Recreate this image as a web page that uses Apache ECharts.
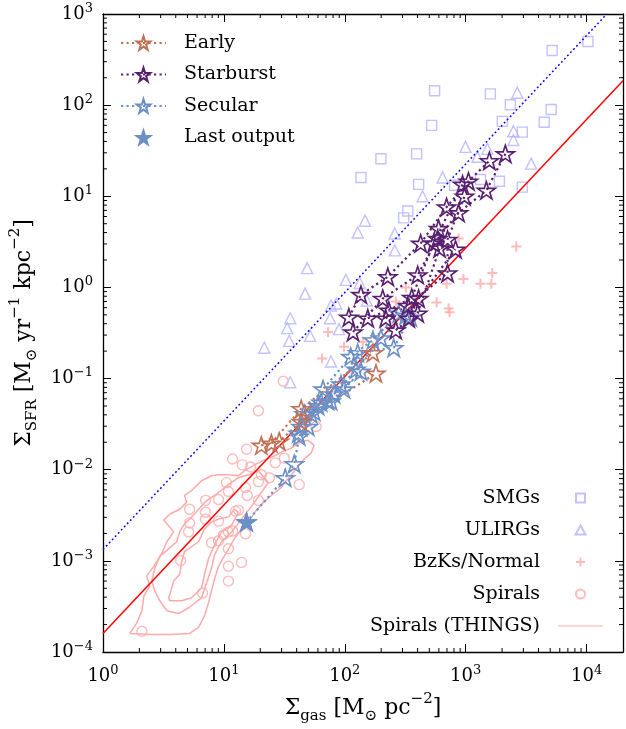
<!DOCTYPE html>
<html>
<head>
<meta charset="utf-8">
<script src="https://cdn.jsdelivr.net/npm/echarts@6.0.0/dist/echarts.min.js"></script>
<style>
  html, body { margin: 0; padding: 0; background: #fff; }
  #main { width: 626px; height: 729px; }
</style>
</head>
<body>
<div id="main"></div>
<script>
var smgX = [10260, 5190, 553, 1600, 2340, 5090, 2010, 523, 4460, 2940, 393, 199, 136, 408, 809, 1325, 1900, 2940, 332, 307];
var smgY = [499, 398, 144, 133, 101, 89.5, 66.4, 60, 64.9, 50.6, 29.2, 25.8, 16.1, 13.5, 13.2, 15.3, 14.6, 12.6, 6.9, 5.8];

var ulirgX = [2670, 2480, 2480, 996, 1510, 1250, 3480, 644, 440, 147, 128, 259, 259, 48.8, 102, 133, 47, 77, 85, 152, 35.4, 75.5, 33.4, 89.6, 34.7, 51.7, 21.6, 77, 35.4];
var ulirgY = [137, 51.8, 41.4, 34.8, 33.1, 27.1, 22.8, 16.1, 10.0, 5.4, 4.0, 3.9, 2.55, 1.63, 1.21, 1.12, 0.855, 0.634, 0.667, 0.718, 0.459, 0.459, 0.358, 0.349, 0.259, 0.294, 0.218, 0.154, 0.0912];

var bzkX = [2620, 1660, 959, 1324, 1630, 695, 575, 722, 736, 319, 873, 72.7, 98.5, 64.9, 141, 264];
var bzkY = [2.82, 1.44, 1.24, 1.10, 1.10, 1.10, 0.684, 0.589, 0.533, 1.0, 3.44, 0.324, 0.223, 0.166, 0.253, 0.701];

var spiralX = [31.0, 19.3, 57.9, 15.4, 11.8, 14.2, 16.6, 26.6, 31.6, 10.5, 20.4, 23.8, 42.0, 19.3, 15.1, 15.6, 19.3, 10.9, 7.05, 9.03, 5.21, 7.05, 9.03, 12.5, 13.2, 5.21, 5.11, 7.05, 7.9, 9.03, 9.93, 10.9, 11.8, 10.9, 14.0, 10.9, 10.9, 4.39, 6.67, 2.10, 15.1];
var spiralY = [0.0935, 0.0444, 0.0298, 0.0168, 0.0131, 0.0113, 0.0107, 0.0119, 0.0134, 0.00721, 0.0088, 0.00816, 0.00686, 0.0074, 0.00637, 0.00522, 0.00461, 0.00577, 0.00461, 0.00472, 0.00368, 0.00342, 0.00273, 0.00351, 0.0036, 0.0026, 0.00208, 0.00287, 0.00158, 0.00166, 0.00193, 0.00208, 0.00213, 0.00136, 0.000962, 0.000871, 0.0006, 0.00101, 0.000445, 0.000169, 0.00198];

// THINGS contours (outer, middle, inner)
var thingsX = [
  [1.67, 1.91, 2.10, 2.18, 2.44, 2.30, 2.63, 3.06, 3.37, 3.85, 3.18, 3.56, 4.31, 4.92, 4.73, 5.41, 6.54, 7.9, 9.03, 10.9, 13.2, 14.8, 17.9, 21.6, 26.1, 31.0, 36.0, 43.6, 49.8, 55.8, 52.7, 45.3, 41.2, 37.4, 32.8, 29.8, 24.7, 21.2, 18.6, 16.3, 14.0, 12.2, 11.1, 9.93, 9.03, 8.37, 7.9, 7.47, 6.92, 6.18, 5.21, 3.56, 2.53, 1.67],
  [2.53, 2.68, 2.95, 3.50, 4.07, 4.31, 4.65, 5.41, 6.18, 6.92, 7.9, 9.03, 10.9, 13.2, 16.0, 19.3, 23.3, 20.4, 17.9, 16.0, 14.0, 11.6, 9.55, 8.37, 7.9, 6.54, 5.11, 4.23, 3.37, 2.95, 2.68, 2.53],
  [3.56, 3.50, 3.85, 4.31, 4.48, 4.73, 6.18, 6.92, 7.9, 9.03, 10.9, 12.2, 13.2, 11.6, 9.55, 8.37, 7.47, 6.92, 6.54, 5.41, 4.48, 3.56]
];
var thingsY = [
  [1.6e-4, 2.1e-4, 2.84e-4, 4.13e-4, 5.3e-4, 6.8e-4, 8.7e-4, 1.2e-3, 1.62e-3, 2.08e-3, 2.8e-3, 3.25e-3, 3.68e-3, 4.38e-3, 5.22e-3, 5.91e-3, 7.57e-3, 8.59e-3, 8.8e-3, 8.8e-3, 8.59e-3, 9.72e-3, 1.13e-2, 1.28e-2, 1.41e-2, 1.6e-2, 1.72e-2, 2.05e-2, 2.1e-2, 1.85e-2, 1.52e-2, 1.28e-2, 1.10e-2, 9.25e-3, 7.57e-3, 6.37e-3, 5.22e-3, 4.38e-3, 3.6e-3, 2.8e-3, 2.24e-3, 1.75e-3, 1.4e-3, 1.09e-3, 8.71e-4, 6.3e-4, 4.68e-4, 3.47e-4, 2.51e-4, 1.86e-4, 1.6e-4, 1.56e-4, 1.56e-4, 1.6e-4],
  [6.0e-4, 8.3e-4, 1.12e-3, 1.36e-3, 1.62e-3, 2.08e-3, 2.47e-3, 3.02e-3, 3.68e-3, 4.38e-3, 4.97e-3, 5.62e-3, 6.86e-3, 8.17e-3, 8.8e-3, 9.72e-3, 7.21e-3, 5.62e-3, 4.38e-3, 3.6e-3, 2.87e-3, 2.08e-3, 1.62e-3, 1.17e-3, 8.28e-4, 3.93e-4, 3.06e-4, 2.64e-4, 2.84e-4, 3.65e-4, 4.68e-4, 6.0e-4],
  [3.65e-4, 3.93e-4, 6.0e-4, 7.13e-4, 9.86e-4, 1.26e-3, 1.62e-3, 2.24e-3, 2.67e-3, 2.87e-3, 3.02e-3, 3.68e-3, 3.42e-3, 2.47e-3, 2.08e-3, 1.5e-3, 1.06e-3, 7.13e-4, 5.04e-4, 3.93e-4, 3.65e-4, 3.65e-4]
];

// reference relations
var ksX = [1, 20000];
var ksY = [1.6e-4, 185];
var sbSeqX = [1, 14700];
var sbSeqY = [1.33e-3, 1000];

// simulation tracks
var earlyX = [[20.4, 28.7, 43.6, 181], [24.7, 43.6, 171]];
var earlyY = [[0.0185, 0.0205, 0.0337, 0.114], [0.0195, 0.0466, 0.192]];

var burstX = [
  [108, 136, 227, 424, 695, 1054, 1570],
  [117, 206, 401, 586, 873, 1483, 2128],
  [155, 231, 358, 543, 942],
  [218, 332, 708, 708, 977],
  [264, 401, 608, 597],
  [338, 408, 824]
];
var burstY = [
  [0.471, 0.834, 1.31, 3.04, 7.63, 14.6, 24.5],
  [0.324, 0.755, 1.37, 3.44, 6.58, 11.6, 29.2],
  [0.459, 0.560, 0.774, 3.04, 13.5],
  [0.459, 0.634, 1.44, 3.36, 10.0],
  [0.340, 0.520, 2.69, 4.42],
  [0.459, 0.755, 2.62]
];

var secularX = [
  [319, 199, 124, 81.5, 55.8, 42.0, 38.2, 32.2, 15.4],
  [351, 254, 128, 93.0, 72.7, 60.1, 49.8, 41.2],
  [136, 98.5, 77, 63.7, 52.7, 43.6],
  [279, 171, 112, 66.1, 46.1]
];
var secularY = [
  [0.494, 0.279, 0.126, 0.0676, 0.0433, 0.0232, 0.0116, 0.00817, 0.00267],
  [0.471, 0.218, 0.192, 0.0868, 0.0568, 0.0502, 0.0298, 0.0250],
  [0.120, 0.0766, 0.0568, 0.055, 0.0411, 0.0298],
  [0.520, 0.265, 0.174, 0.0766, 0.0411]
];

var lastX = [15.4];
var lastY = [0.00267];

// axis ticks
var xDecades = [1, 10, 100, 1000];
var yDecades = [1e-4, 1e-3, 1e-2, 1e-1, 1, 10, 100];
var minorSteps = [2, 3, 4, 5, 6, 7, 8, 9];

var FONT = '"DejaVu Serif", serif';
var STAR = 'path://M50,0L61.23,34.55L97.55,34.55L68.17,55.9L79.39,90.45L50,69.1L20.61,90.45L31.83,55.9L2.45,34.55L38.77,34.55Z';
var PLUS = 'path://M4,0H6V10H4ZM0,4H10V6H0Z';
var SQUARE = 'path://M0,0H10V10H0Z';
var TRI = 'path://M5,0L10,9L0,9Z';
var EARLY = '#c17256', BURST = '#581e70', SECULAR = '#6b8fc6';
var BLUEOBS = '#b3b3ff', PINK = '#ffaaaa';

function pts(xs, ys) {
  return xs.map(function (x, i) { return [x, ys[i]]; });
}

function track(name, color, xs, ys) {
  return {
    name: name, type: 'line', data: pts(xs, ys),
    symbol: STAR, symbolSize: 18, symbolKeepAspect: true,
    lineStyle: { color: color, width: 2.2, type: [2.2, 3.3] },
    itemStyle: { color: 'rgba(255,255,255,0)', borderColor: color, borderWidth: 1.6 },
    z: 5
  };
}

var xMinor = [], yMinor = [];
xDecades.forEach(function (d) { minorSteps.forEach(function (m) { xMinor.push([m * d, 1]); }); });
yDecades.forEach(function (d) { minorSteps.forEach(function (m) { yMinor.push([1, m * d]); }); });

function powLabel(v) {
  var e = Math.round(Math.log10(v));
  if (Math.abs(Math.pow(10, e) - v) / v > 1e-6) return '';
  return '{b|10}{s|' + (e < 0 ? '\u2212' + (-e) : e) + '}';
}
var labelRich = {
  b: { fontFamily: FONT, fontSize: 18, color: '#000', lineHeight: 24 },
  s: { fontFamily: FONT, fontSize: 13, color: '#000', verticalAlign: 'top' }
};
var nameRich = {
  t: { fontFamily: FONT, fontSize: 22, color: '#000', lineHeight: 32 },
  sub: { fontFamily: FONT, fontSize: 15, color: '#000', verticalAlign: 'bottom' },
  sup: { fontFamily: FONT, fontSize: 15, color: '#000', verticalAlign: 'top' }
};

function baseAxis(extra) {
  var a = {
    type: 'log', logBase: 10,
    axisLine: { show: true, lineStyle: { color: '#000', width: 1.3 } },
    axisTick: { show: true, inside: true, length: 8, lineStyle: { color: '#000', width: 1 } },
    splitLine: { show: false },
    axisLabel: { show: false }
  };
  for (var k in extra) a[k] = extra[k];
  return a;
}

function minorTicks(isX) {
  return function (params, api) {
    var cs = params.coordSys;
    var p = api.coord([api.value(0), api.value(1)]);
    var st = { stroke: '#000', lineWidth: 1 };
    if (isX) {
      var yb = cs.y + cs.height, yt = cs.y;
      return { type: 'group', children: [
        { type: 'line', shape: { x1: p[0], y1: yb, x2: p[0], y2: yb - 4 }, style: st },
        { type: 'line', shape: { x1: p[0], y1: yt, x2: p[0], y2: yt + 4 }, style: st }
      ] };
    }
    var xl = cs.x, xr = cs.x + cs.width;
    return { type: 'group', children: [
      { type: 'line', shape: { x1: xl, y1: p[1], x2: xl + 4, y2: p[1] }, style: st },
      { type: 'line', shape: { x1: xr, y1: p[1], x2: xr - 4, y2: p[1] }, style: st }
    ] };
  };
}

var series = [];
thingsX.forEach(function (xs, i) {
  series.push({
    name: 'Spirals (THINGS)', type: 'line', data: pts(xs, thingsY[i]),
    symbol: 'none', lineStyle: { color: PINK, width: 1.5 }, itemStyle: { color: PINK }, z: 1
  });
});
series.push({
  name: 'SMGs', type: 'scatter', data: pts(smgX, smgY), symbol: 'rect', symbolSize: 10,
  itemStyle: { color: 'rgba(255,255,255,0)', borderColor: BLUEOBS, borderWidth: 1.4 }, z: 2
});
series.push({
  name: 'ULIRGs', type: 'scatter', data: pts(ulirgX, ulirgY), symbol: 'triangle', symbolSize: 11,
  itemStyle: { color: 'rgba(255,255,255,0)', borderColor: BLUEOBS, borderWidth: 1.4 }, z: 2
});
series.push({
  name: 'BzKs/Normal', type: 'scatter', data: pts(bzkX, bzkY), symbol: PLUS, symbolSize: 10,
  itemStyle: { color: PINK }, z: 2
});
series.push({
  name: 'Spirals', type: 'scatter', data: pts(spiralX, spiralY), symbol: 'circle', symbolSize: 10,
  itemStyle: { color: 'rgba(255,255,255,0)', borderColor: PINK, borderWidth: 1.4 }, z: 2
});
series.push({
  name: 'KS', type: 'line', data: pts(ksX, ksY), symbol: 'none',
  lineStyle: { color: '#ff0000', width: 1.5 }, z: 3
});
series.push({
  name: 'SBseq', type: 'line', data: pts(sbSeqX, sbSeqY), symbol: 'none',
  lineStyle: { color: '#0000ff', width: 1.5, type: [1.8, 2.6] }, z: 3
});
secularX.forEach(function (xs, i) { series.push(track('Secular', SECULAR, xs, secularY[i])); });
earlyX.forEach(function (xs, i) { series.push(track('Early', EARLY, xs, earlyY[i])); });
burstX.forEach(function (xs, i) { series.push(track('Starburst', BURST, xs, burstY[i])); });
series.push({
  name: 'Last output', type: 'line', data: pts(lastX, lastY),
  symbol: STAR, symbolSize: 20, symbolKeepAspect: true,
  lineStyle: { width: 0, color: SECULAR },
  itemStyle: { color: SECULAR, borderColor: SECULAR, borderWidth: 1 }, z: 6
});
series.push({ type: 'custom', renderItem: minorTicks(true), data: xMinor, silent: true, z: 10 });
series.push({ type: 'custom', renderItem: minorTicks(false), data: yMinor, silent: true, z: 10 });

var chart = echarts.init(document.getElementById('main'));
chart.setOption({
  animation: false,
  backgroundColor: '#fff',
  grid: { left: 101, right: 3, top: 14, bottom: 67, containLabel: false },
  legend: [
    {
      data: ['Early', 'Starburst', 'Secular', 'Last output'],
      orient: 'vertical', left: 120, top: 33, padding: 0,
      itemWidth: 45, itemHeight: 17, itemGap: 11.5, selectedMode: false,
      textStyle: { fontFamily: FONT, fontSize: 19, color: '#000', lineHeight: 20, padding: [0, 0, 0, 13] }
    },
    {
      data: [
        { name: 'SMGs', icon: SQUARE },
        { name: 'ULIRGs', icon: TRI },
        { name: 'BzKs/Normal', icon: PLUS },
        'Spirals',
        { name: 'Spirals (THINGS)', icon: 'path://M0,0H60V1.6H0Z' }
      ],
      orient: 'vertical', right: 23, top: 488, padding: 0, align: 'right',
      itemWidth: 45, itemHeight: 9, itemGap: 12, selectedMode: false,
      textStyle: { fontFamily: FONT, fontSize: 19, color: '#000', lineHeight: 20, padding: [0, 13, 0, 0] }
    }
  ],
  xAxis: [
    baseAxis({
      min: 1, max: 20000, position: 'bottom',
      name: '{t|\u03a3}{sub|gas}{t| [M}{sub|\u2299}{t| pc}{sup|\u22122}{t|]}',
      nameLocation: 'middle', nameGap: 40,
      nameTextStyle: { rich: nameRich },
      axisLabel: { show: true, margin: 12, formatter: powLabel, rich: labelRich }
    }),
    baseAxis({ min: 1, max: 20000, position: 'top' })
  ],
  yAxis: [
    baseAxis({
      min: 1e-4, max: 1000, position: 'left',
      name: '{t|\u03a3}{sub|SFR}{t| [M}{sub|\u2299}{t| yr}{sup|\u22121}{t| kpc}{sup|\u22122}{t|]}',
      nameLocation: 'middle', nameGap: 62, nameRotate: 90,
      nameTextStyle: { rich: nameRich },
      axisLabel: { show: true, margin: 10, formatter: powLabel, rich: labelRich }
    }),
    baseAxis({ min: 1e-4, max: 1000, position: 'right' })
  ],
  series: series
});
</script>
</body>
</html>
